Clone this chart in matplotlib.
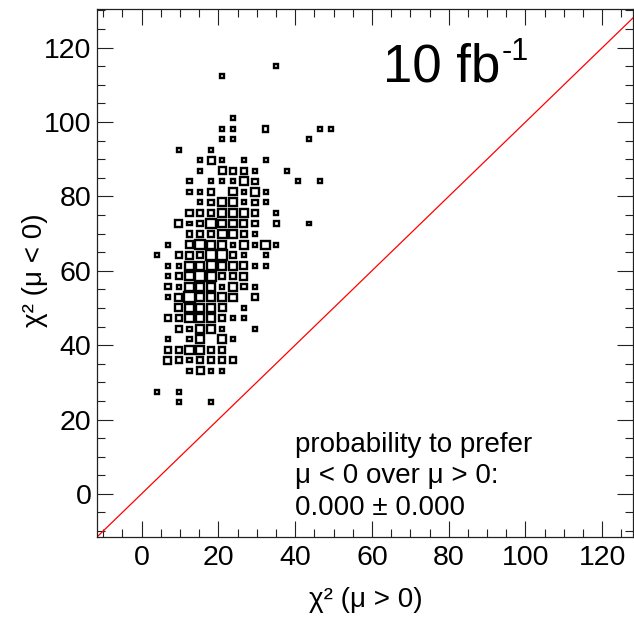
import numpy as np
import matplotlib
matplotlib.use("Agg")
import matplotlib.pyplot as plt
from matplotlib.patches import Rectangle
from matplotlib.ticker import MultipleLocator

plt.rcParams['font.family'] = ['Liberation Sans', 'DejaVu Sans']

# ---- data: 2D histogram of chi2(mu>0) vs chi2(mu<0) toys ----
# binning (both axes)
bin_width = 2.83
x_first_center = 4.0     # chi2(mu>0) centre of first column
y_first_center = 24.6    # chi2(mu<0) centre of first row
# counts, one string per y-bin row from top (row 32) to bottom (row 0), 17 x-bins each
count_rows = [
    "00000000000100000",  # 32
    "00000010000000000",  # 31
    "00000000000000000",  # 30
    "00000000000000000",  # 29
    "00000000000000000",  # 28
    "00000001000000000",  # 27
    "00000011002000011",  # 26
    "00000011000000100",  # 25
    "00100100000000000",  # 24
    "00001310101000000",  # 23
    "00001032210010000",  # 22
    "00010111420001010",  # 21
    "00011203141000000",  # 20
    "00001244121000000",  # 19
    "00032244420100000",  # 18
    "00312644320200100",  # 17
    "00022254210000000",  # 16
    "01036441414100000",  # 15
    "10232662101000000",  # 14
    "01144544311000000",  # 13
    "01246522300000000",  # 12
    "02144414210000000",  # 11
    "01374443020000000",  # 10
    "00344430100000000",  # 9
    "02244421100000000",  # 8
    "00214410010000000",  # 7
    "01014041000000000",  # 6
    "02244220000000000",  # 5
    "03212222000000000",  # 4
    "00013110000000000",  # 3
    "00000000000000000",  # 2
    "10100000000000000",  # 1
    "00100100000000000",  # 0
]
lumi_main = "10 fb"
lumi_sup = "-1"
prob_lines = ["probability to prefer", "μ < 0 over μ > 0:", "0.000 ± 0.000"]
x_title = "χ² (μ > 0)"
y_title = "χ² (μ < 0)"
x_range = (-11.6, 128.0)
y_range = (-11.6, 130.4)
diag = [-20.0, 140.0]

counts = np.array([[int(c) for c in r] for r in count_rows[::-1]])  # row 0 = bottom

W, H, DPI = 634, 618, 100
fig = plt.figure(figsize=(W / DPI, H / DPI), dpi=DPI)
ax = fig.add_axes([97 / W, 1 - 537 / H, (633 - 97) / W, (537 - 9) / H])

cmax = counts.max()
for j in range(counts.shape[0]):
    for i in range(counts.shape[1]):
        c = counts[j, i]
        if c <= 0:
            continue
        xc = x_first_center + bin_width * i
        yc = y_first_center + bin_width * j
        s = bin_width * np.sqrt(c / cmax)
        ax.add_patch(Rectangle((xc - s / 2, yc - s / 2), s, s, fill=False,
                               ec='black', lw=1.7, joinstyle='miter'))

ax.plot(diag, diag, color='#ff0000', lw=0.9)

ax.set_xlim(*x_range)
ax.set_ylim(*y_range)
ax.xaxis.set_major_locator(MultipleLocator(20))
ax.xaxis.set_minor_locator(MultipleLocator(5))
ax.yaxis.set_major_locator(MultipleLocator(20))
ax.yaxis.set_minor_locator(MultipleLocator(5))
ax.tick_params(which='both', direction='in', top=True, right=True, width=0.8, color='#222222')
ax.tick_params(which='major', length=11.5)
ax.tick_params(which='minor', length=5.8)
ax.tick_params(axis='x', which='major', labelsize=20.5, pad=6)
ax.tick_params(axis='y', which='major', labelsize=20.5, pad=4)
for sp in ax.spines.values():
    sp.set_linewidth(0.9)
    sp.set_color('#222222')

fig.text(366 / W, 1 - 600 / H, x_title, fontsize=20, ha='center', va='center')
fig.text(35 / W, 1 - 270 / H, y_title, fontsize=20, ha='center', va='center', rotation=90)

fig.text(383 / W, 1 - 81 / H, lumi_main, fontsize=38, ha='left', va='baseline')
fig.text(502 / W, 1 - 60 / H, lumi_sup, fontsize=22, ha='left', va='baseline')
for txt, yb in zip(prob_lines, [452, 483, 515]):
    fig.text(295 / W, 1 - yb / H, txt, fontsize=20, ha='left', va='baseline')

fig.savefig("out.png", dpi=DPI)
